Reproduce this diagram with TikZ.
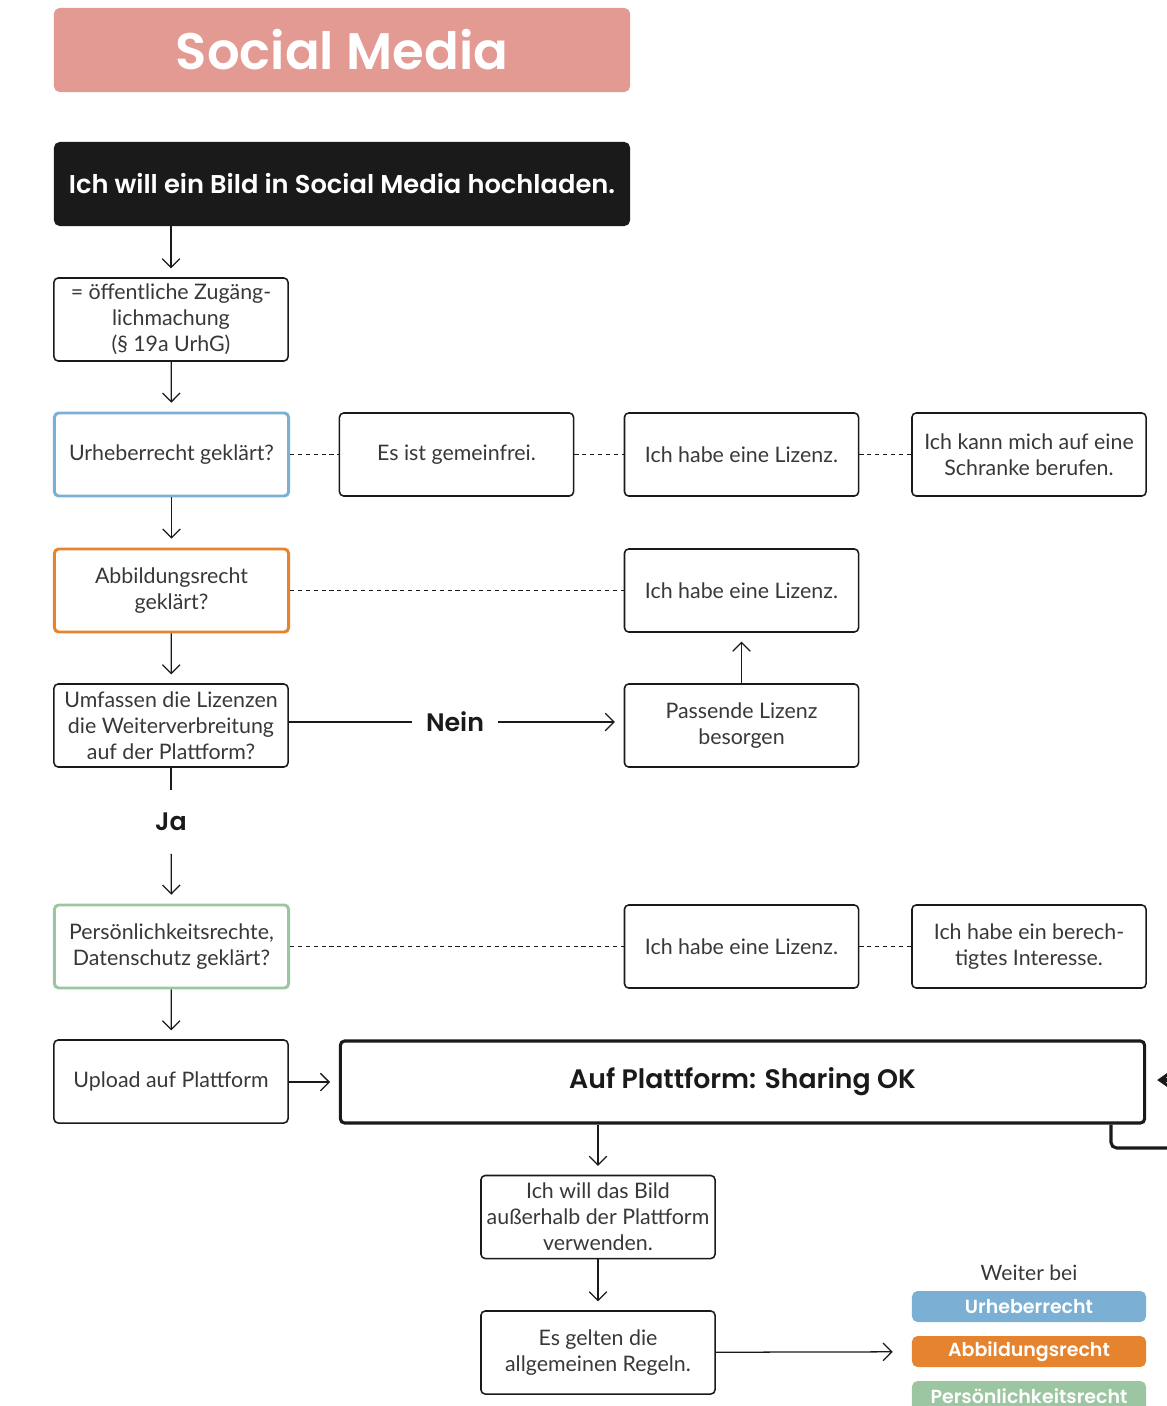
\documentclass[tikz,border=0pt]{standalone}
\usepackage{fontspec}
\setmainfont{Lato}
\newfontfamily\headfont{Poppins}[BoldFont={Poppins SemiBold}]
\usetikzlibrary{arrows.meta}

\definecolor{titlered}{HTML}{E39A93}
\definecolor{urhblue}{HTML}{7BAFD4}
\definecolor{abborange}{HTML}{E5832F}
\definecolor{persgreen}{HTML}{9CC5A1}
\definecolor{ink}{HTML}{1A1A1A}
\definecolor{textgray}{HTML}{383838}

\begin{document}
\begin{tikzpicture}[x=0.025cm, y=-0.025cm,
  box/.style={draw=ink, line width=1.1pt, rounded corners=3pt, minimum width=5.85cm,
    minimum height=2.075cm, align=center, inner sep=0pt, text=textgray,
    font=\fontsize{15.2}{18.5}\selectfont},
  colbox/.style={box, line width=2.1pt, draw=#1},
  headbox/.style={rounded corners=4pt, minimum width=14.4cm, minimum height=2.1cm,
    inner sep=0pt, text=white, font=\headfont\bfseries\fontsize{#1}{#1}\selectfont},
  okbox/.style={draw=ink, line width=2.2pt, rounded corners=3pt, minimum width=20.1cm,
    minimum height=2.05cm, inner sep=0pt, text=ink, font=\headfont\bfseries\fontsize{19}{22}\selectfont},
  answer/.style={inner xsep=0.35cm, inner ysep=0pt, minimum height=1.575cm, text=ink,
    font=\headfont\bfseries\fontsize{18}{21}\selectfont},
  badge/.style={rounded corners=4pt, minimum width=5.85cm, minimum height=0.775cm,
    inner sep=0pt, text=white, font=\headfont\bfseries\fontsize{13.5}{15}\selectfont},
  arr/.style={draw=ink, line width=0.9pt, -{Straight Barb[length=2.2mm, width=4.4mm]}, shorten >=0.22cm},
  link/.style={draw=ink, line width=0.9pt},
  dashlink/.style={draw=ink, line width=0.9pt, dash pattern=on 3pt off 2.6pt}]

\useasboundingbox (0,0) rectangle (1166,1406);

\node[headbox=36.5, fill=titlered] (title) at (342,50) {Social Media};
\node[headbox=18.3, fill=ink] (start) at (342,184) {Ich will ein Bild in Social Media hochladen.};

\node[box] (zug) at (171,319.5) {= öffentliche Zugäng-\\lichmachung\\(§ 19a UrhG)};

\node[colbox=urhblue] (urh) at (171.5,454.5) {Urheberrecht geklärt?};
\node[box] (frei) at (456.5,454.5) {Es ist gemeinfrei.};
\node[box] (lizA) at (741.5,454.5) {Ich habe eine Lizenz.};
\node[box] (schranke) at (1029,454.5) {Ich kann mich auf eine\\Schranke berufen.};

\node[colbox=abborange] (abb) at (171.5,590.5) {Abbildungsrecht\\geklärt?};
\node[box] (lizB) at (741.5,590.5) {Ich habe eine Lizenz.};

\node[box] (umf) at (171,725.5) {Umfassen die Lizenzen\\die Weiterverbreitung\\auf der Plattform?};
\node[answer] (nein) at (455,722) {Nein};
\node[box] (besorgen) at (741.5,725.5) {Passende Lizenz\\besorgen};
\node[answer] (ja) at (171,822) {Ja};

\node[colbox=persgreen] (pers) at (171.5,946.5) {Persönlichkeitsrechte,\\Datenschutz geklärt?};
\node[box] (lizC) at (741.5,946.5) {Ich habe eine Lizenz.};
\node[box] (interesse) at (1029,946.5) {Ich habe ein berech-\\tigtes Interesse.};

\node[box] (upload) at (171,1081.5) {Upload auf Plattform};
\node[okbox] (ok) at (742.5,1082) {Auf Plattform: Sharing OK};

\node[box] (ausser) at (598,1217) {Ich will das Bild\\außerhalb der Plattform\\verwenden.};
\node[box] (regeln) at (598,1352.5) {Es gelten die\\allgemeinen Regeln.};

\node[text=textgray, font=\fontsize{15}{18}\selectfont] (weiter) at (1029,1273) {Weiter bei};
\node[badge, fill=urhblue] (bUrh) at (1029,1306.5) {Urheberrecht};
\node[badge, fill=abborange] (bAbb) at (1029,1351.5) {Abbildungsrecht};
\node[badge, fill=persgreen] (bPers) at (1029,1396.5) {Persönlichkeitsrecht};

\coordinate (rein) at (1180,1080);
\coordinate (knick) at (1111,1148);
\coordinate (raus) at (1180,1148);

\draw[arr] (zug.north |- start.south) -- (zug.north);
\draw[arr] (zug) -- (urh);
\draw[arr] (urh) -- (abb);
\draw[arr] (abb) -- (umf);
\draw[link] (umf.east |- nein) -- (nein);
\draw[arr] (nein) -- (besorgen.west |- nein);
\draw[arr] (besorgen) -- (lizB);
\draw[link] (umf) -- (ja);
\draw[arr] (ja) -- (pers);
\draw[arr] (pers) -- (upload);
\draw[arr] (upload.east |- ok) -- (ok);
\draw[arr] (ok.south -| ausser.north) -- (ausser.north);
\draw[arr] (ausser) -- (regeln);
\draw[arr, shorten >=0.475cm] (regeln) -- (bAbb);

\draw[dashlink] (urh) -- (frei);
\draw[dashlink] (frei) -- (lizA);
\draw[dashlink] (lizA) -- (schranke);
\draw[dashlink] (abb) -- (lizB);
\draw[dashlink] (pers) -- (lizC);
\draw[dashlink] (lizC) -- (interesse);

\draw[draw=ink, line width=2.2pt, -{Straight Barb[length=2mm, width=2.8mm]}, shorten >=0.275cm] (rein) -- (ok.east |- rein);
\draw[draw=ink, line width=2.2pt, rounded corners=4pt] (ok.south -| knick) -- (knick) -- (raus);
\end{tikzpicture}
\end{document}
